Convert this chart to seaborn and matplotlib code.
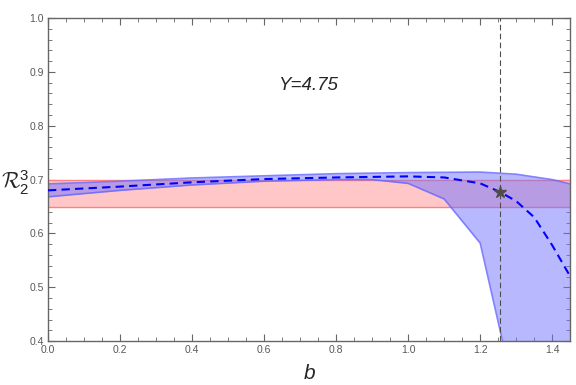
import numpy as np
import pandas as pd
import matplotlib
matplotlib.use("Agg")
import matplotlib.pyplot as plt
import seaborn as sns
from matplotlib.ticker import MultipleLocator

sns.set_style("ticks")
plt.rcParams['font.family'] = ['Liberation Sans', 'DejaVu Sans']
plt.rcParams['mathtext.fontset'] = 'custom'
plt.rcParams['mathtext.rm'] = 'Liberation Sans'
plt.rcParams['mathtext.it'] = 'Liberation Sans:italic'
plt.rcParams['mathtext.cal'] = 'cmsy10'

# band (upper / lower) and central curve
b_up = [0.0, 0.2, 0.4, 0.6, 0.8, 1.0, 1.2, 1.3, 1.4, 1.45]
r_up = [0.692, 0.697, 0.703, 0.707, 0.711, 0.713, 0.714, 0.710, 0.700, 0.692]
b_lo = [0.0, 0.2, 0.4, 0.6, 0.8, 0.9, 1.0, 1.1, 1.2, 1.262, 1.3, 1.45]
r_lo = [0.668, 0.680, 0.690, 0.697, 0.700, 0.700, 0.693, 0.664, 0.582, 0.40, 0.30, 0.10]
b_mid = [0.0, 0.2, 0.4, 0.6, 0.8, 1.0, 1.1, 1.2, 1.255, 1.3, 1.35, 1.4, 1.45]
r_mid = [0.680, 0.687, 0.695, 0.701, 0.704, 0.706, 0.704, 0.693, 0.677, 0.660, 0.630, 0.578, 0.520]
obs_lo, obs_hi = 0.65, 0.70
b_star, r_star = 1.255, 0.677

fig = plt.figure(figsize=(5.76, 3.85), dpi=100)
ax = fig.add_axes([0.0833, 0.114, 0.9067, 0.839])

# observed band
ax.axhspan(obs_lo, obs_hi, facecolor=(1.0, 0.78, 0.78), edgecolor='none', zorder=1)
ax.axhline(obs_lo, color=(1.0, 0.5, 0.5), lw=1.0, zorder=1.5)
ax.axhline(obs_hi, color=(1.0, 0.5, 0.5), lw=1.0, zorder=1.5)

# theory band
grid = np.union1d(b_up, b_lo)
up_i = np.interp(grid, b_up, r_up)
lo_i = np.interp(grid, b_lo, r_lo)
ax.fill_between(grid, lo_i, up_i, color=(0.45, 0.45, 1.0), alpha=0.5, lw=0, zorder=2)
ax.plot(b_up, r_up, color=(0.4, 0.4, 1.0), lw=1.2, alpha=0.8, zorder=2.5)
ax.plot(b_lo, r_lo, color=(0.4, 0.4, 1.0), lw=1.2, alpha=0.8, zorder=2.5)

df = pd.DataFrame({"b": b_mid, "R": r_mid})
sns.lineplot(data=df, x="b", y="R", ax=ax, color=(0.0, 0.0, 1.0), lw=1.5,
             linestyle=(0, (4, 2.5)), zorder=3)

ax.axvline(b_star, color=(0.3, 0.3, 0.3), lw=0.8, linestyle=(0, (5, 3)), zorder=3)
ax.plot([b_star], [r_star], marker='*', ms=9, color=(0.3, 0.3, 0.3), zorder=4)

ax.text(0.722, 0.875, "Y=4.75", fontsize=13.5, style='italic', ha='center', va='center')

ax.set_xlim(0, 1.45)
ax.set_ylim(0.4, 1.0)
ax.xaxis.set_minor_locator(MultipleLocator(0.05))
ax.yaxis.set_minor_locator(MultipleLocator(0.02))
ax.set_xticks(np.arange(0, 1.41, 0.2))
ax.set_xticklabels([f"{v:.1f}" for v in np.arange(0, 1.41, 0.2)])
ax.set_yticks(np.arange(0.4, 1.01, 0.1))
ax.set_yticklabels([f"{v:.1f}" for v in np.arange(0.4, 1.01, 0.1)])

grey = (0.4, 0.4, 0.4)
for s in ax.spines.values():
    s.set_color(grey)
    s.set_linewidth(1.0)
ax.tick_params(which='both', direction='in', top=True, right=True, colors=grey,
               labelsize=7.5, labelcolor=(0.35, 0.35, 0.35), pad=3)
ax.tick_params(which='major', length=5, width=0.8)
ax.tick_params(which='minor', length=3, width=0.6)

ax.set_xlabel("$b$", fontsize=15)
ax.xaxis.set_label_coords(0.5, -0.07)
ax.set_ylabel(r"$\mathcal{R}_2^3$", fontsize=15.5, rotation=0, va='center', ha='center')
ax.yaxis.set_label_coords(-0.064, 0.49)

fig.savefig("out.png", dpi=100)
